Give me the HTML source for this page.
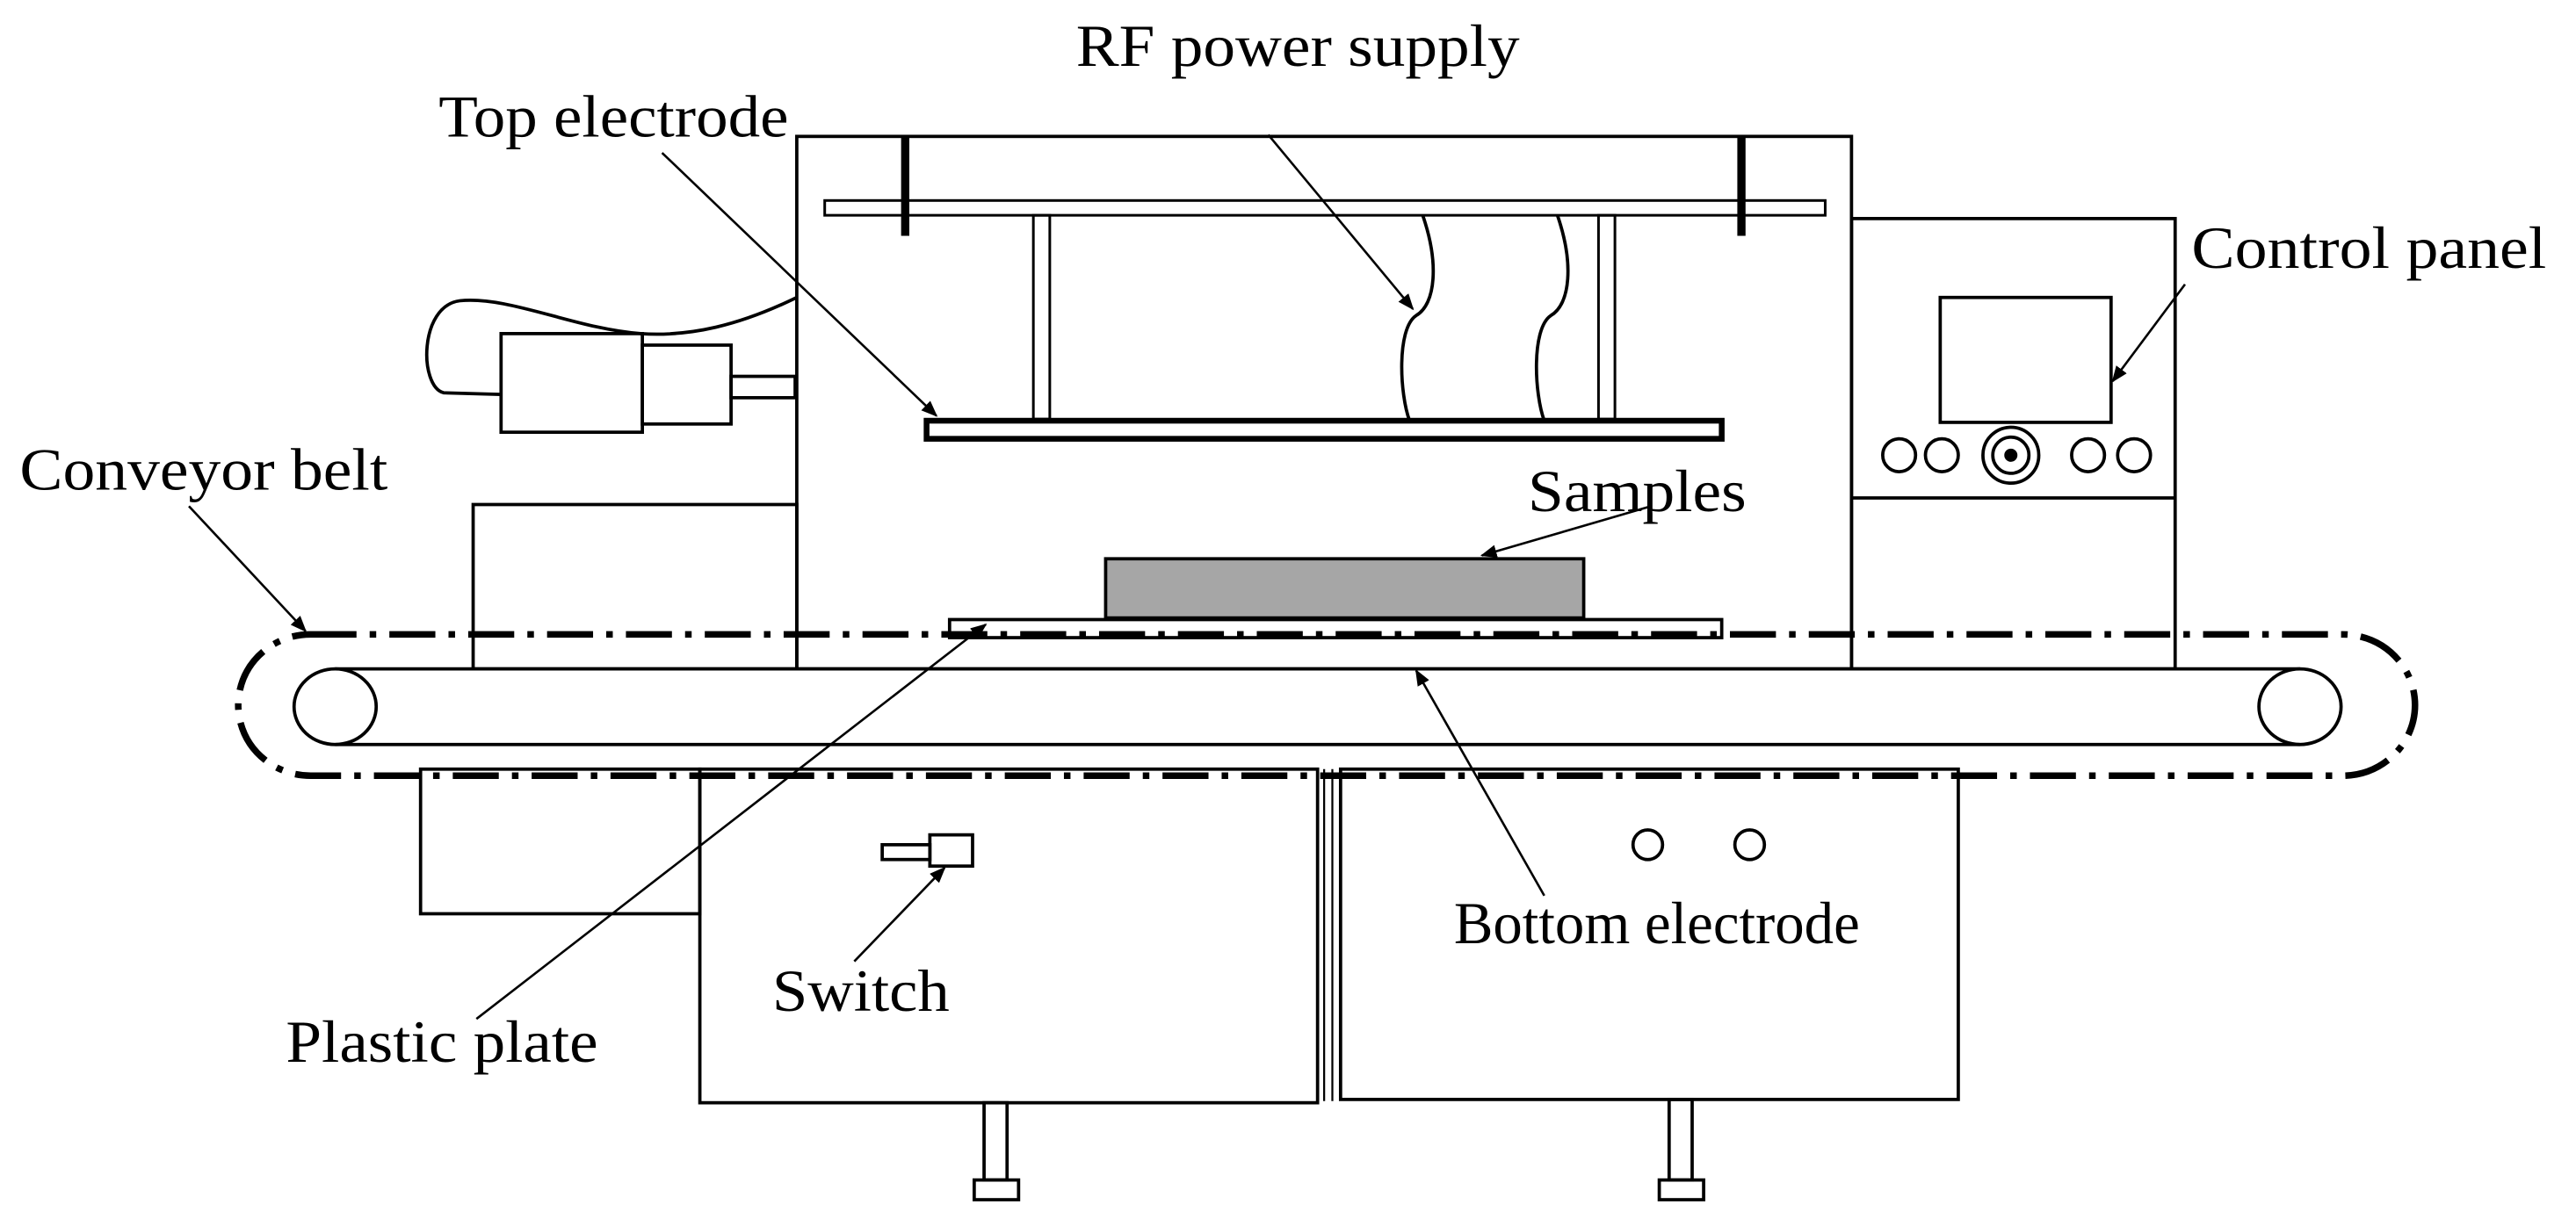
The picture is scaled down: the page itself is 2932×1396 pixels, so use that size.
<!DOCTYPE html>
<html><head><meta charset="utf-8"><style>html,body{margin:0;padding:0;background:#fff}svg{display:block}</style></head>
<body>
<svg width="2932" height="1396" viewBox="0 0 1568 746" preserveAspectRatio="none" xmlns="http://www.w3.org/2000/svg">
<defs><marker id="a" markerWidth="10" markerHeight="8" refX="9" refY="4" orient="auto" markerUnits="userSpaceOnUse"><path d="M0,0 L10,4 L0,8 z" fill="#000"/></marker></defs>
<g fill="none" stroke="#000" stroke-width="2">
<rect x="485" y="83" width="642" height="324"/>
<rect x="502" y="122" width="609" height="9" stroke-width="1.6"/>
<rect x="549" y="83" width="4" height="60" fill="#000" stroke-width="1"/>
<rect x="1058" y="83" width="4" height="60" fill="#000" stroke-width="1"/>
<rect x="629" y="131" width="10" height="124" stroke-width="1.6"/>
<rect x="973" y="131" width="10" height="124" stroke-width="1.6"/>
<rect x="564" y="256" width="484" height="11" stroke-width="3.5"/>
<path d="M866,131 C876,160 874,185 862,192 C850,200 852,240 858,256"/>
<path d="M948,131 C958,160 956,185 944,192 C932,200 934,240 940,256"/>
<rect x="305" y="203" width="86" height="60"/>
<rect x="391" y="210" width="54" height="48"/>
<rect x="445" y="229" width="39" height="13"/>
<path d="M485,181 C450,198 420,205 390,203 C350,200 310,180 280,183 C255,186 255,235 270,239 L305,240"/>
<rect x="288" y="307" width="197" height="100"/>
<rect x="673" y="340" width="291" height="36" fill="#a6a6a6"/>
<rect x="578" y="377" width="470" height="11"/>
<rect x="1127" y="133" width="197" height="274"/>
<line x1="1127" y1="303" x2="1324" y2="303"/>
<rect x="1181" y="181" width="104" height="76"/>
<circle cx="1156" cy="277" r="10"/><circle cx="1182" cy="277" r="10"/>
<circle cx="1271" cy="277" r="10"/><circle cx="1299" cy="277" r="10"/>
<circle cx="1224" cy="277" r="17"/><circle cx="1224" cy="277" r="11"/><circle cx="1224" cy="277" r="3" fill="#000"/>
<line x1="204" y1="407" x2="1400" y2="407"/>
<line x1="204" y1="453" x2="1400" y2="453"/>
<ellipse cx="204" cy="430" rx="25" ry="23"/>
<ellipse cx="1400" cy="430" rx="25" ry="23"/>
<rect x="145" y="386" width="1325" height="86" rx="44" ry="44" stroke-width="4" stroke-dasharray="28,8,4,8"/>
<rect x="256" y="468" width="170" height="88"/>
<rect x="426" y="468" width="376" height="203"/>
<rect x="816" y="468" width="376" height="201"/>
<line x1="806" y1="468" x2="806" y2="670" stroke-width="1.2"/>
<line x1="811" y1="468" x2="811" y2="670" stroke-width="1.2"/>
<rect x="599" y="671" width="14" height="47"/>
<rect x="593" y="718" width="27" height="12"/>
<rect x="1016" y="669" width="14" height="49"/>
<rect x="1010" y="718" width="27" height="12"/>
<rect x="566" y="508" width="26" height="19"/>
<rect x="537" y="514" width="29" height="9"/>
<circle cx="1003" cy="514" r="9"/><circle cx="1065" cy="514" r="9"/>
</g>
<g stroke="#000" stroke-width="1.4" marker-end="url(#a)">
<line x1="772" y1="82" x2="860" y2="188"/>
<line x1="403" y1="93" x2="570" y2="253"/>
<line x1="1330" y1="173" x2="1286" y2="232"/>
<line x1="115" y1="308" x2="186" y2="384"/>
<line x1="1005" y1="308" x2="902" y2="338"/>
<line x1="290" y1="620" x2="600" y2="380"/>
<line x1="940" y1="545" x2="862" y2="408"/>
<line x1="520" y1="585" x2="575" y2="528"/>
</g>
<g font-family="Liberation Serif, serif" font-size="36" fill="#000" lengthAdjust="spacingAndGlyphs">
<text x="655" y="40" textLength="270" lengthAdjust="spacingAndGlyphs">RF power supply</text>
<text x="267" y="83" textLength="213" lengthAdjust="spacingAndGlyphs">Top electrode</text>
<text x="1334" y="163" textLength="216" lengthAdjust="spacingAndGlyphs">Control panel</text>
<text x="12" y="298" textLength="224" lengthAdjust="spacingAndGlyphs">Conveyor belt</text>
<text x="930" y="311" textLength="133" lengthAdjust="spacingAndGlyphs">Samples</text>
<text x="885" y="574" textLength="247" lengthAdjust="spacingAndGlyphs">Bottom electrode</text>
<text x="470" y="615" textLength="108" lengthAdjust="spacingAndGlyphs">Switch</text>
<text x="174" y="646" textLength="190" lengthAdjust="spacingAndGlyphs">Plastic plate</text>
</g>
</svg>
</body></html>
